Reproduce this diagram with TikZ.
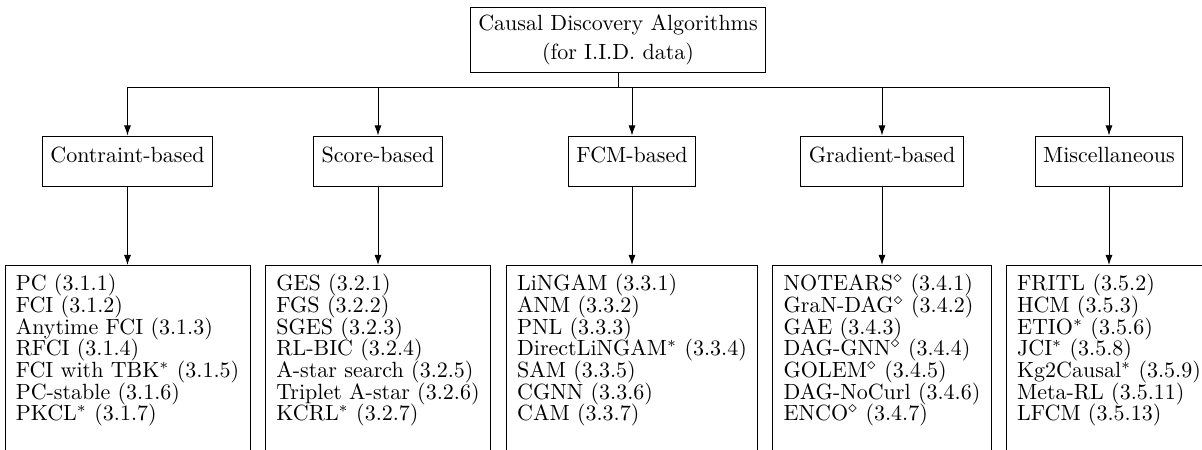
\documentclass[tikz,border=0pt]{standalone}
\usetikzlibrary{arrows.meta}
\begin{document}
\begin{tikzpicture}[x=0.4545pt,y=-0.4545pt,
  box/.style={draw, line width=0.4pt, inner xsep=3.6pt},
  root/.style={box, align=center, font=\fontsize{10}{13.5}\selectfont,
    minimum height=29.7pt},
  cat/.style={box, inner ysep=3.33pt, text height=8.8pt, text depth=7.3pt},
  list/.style={anchor=north, align=left, inner xsep=4.7pt, inner ysep=4pt,
    font={\fontsize{10}{9.85}\selectfont\lineskiplimit=-5pt}},
  listframe/.style={draw, line width=0.4pt},
  arr/.style={-{Latex[length=4.6pt,width=3.2pt]}, line width=0.4pt}]
\useasboundingbox (0,0) rectangle (1202,450);
\clip (0,0) rectangle (1202,450);
\coordinate (floor) at (0,480);

% root of the tree
\node[root] (root) at (618,40) {Causal Discovery Algorithms\\(for I.I.D. data)};

% families
\node[cat] (c1) at (127.5,161) {Contraint-based};
\node[cat] (c2) at (378,161) {Score-based};
\node[cat] (c3) at (632,161) {FCM-based};
\node[cat] (c4) at (882,161) {Gradient-based};
\node[cat] (c5) at (1109,161) {Miscellaneous};

% algorithm lists
\node[list] (l1) at (127.5,265) {PC (3.1.1)\\FCI (3.1.2)\\Anytime FCI (3.1.3)\\RFCI (3.1.4)\\FCI with TBK$^*$ (3.1.5)\\PC-stable (3.1.6)\\PKCL$^*$ (3.1.7)};
\node[list] (l2) at (378,265) {GES (3.2.1)\\FGS (3.2.2)\\SGES (3.2.3)\\RL-BIC (3.2.4)\\A-star search (3.2.5)\\Triplet A-star (3.2.6)\\KCRL$^*$ (3.2.7)};
\node[list] (l3) at (632,265) {LiNGAM (3.3.1)\\ANM (3.3.2)\\PNL (3.3.3)\\DirectLiNGAM$^*$ (3.3.4)\\SAM (3.3.5)\\CGNN (3.3.6)\\CAM (3.3.7)};
\node[list] (l4) at (882,265) {NOTEARS$^\diamond$ (3.4.1)\\GraN-DAG$^\diamond$ (3.4.2)\\GAE (3.4.3)\\DAG-GNN$^\diamond$ (3.4.4)\\GOLEM$^\diamond$ (3.4.5)\\DAG-NoCurl (3.4.6)\\ENCO$^\diamond$ (3.4.7)};
\node[list] (l5) at (1109,265) {FRITL (3.5.2)\\HCM (3.5.3)\\ETIO$^*$ (3.5.6)\\JCI$^*$ (3.5.8)\\Kg2Causal$^*$ (3.5.9)\\Meta-RL (3.5.11)\\LFCM (3.5.13)};

% list frames run on past the lower edge
\foreach \l in {l1,l2,l3,l4,l5}
  \draw[listframe] (\l.north west) rectangle (\l.east |- floor);

% forked edges from the root
\draw (root.south) -- ++(0,14) coordinate (fork);
\foreach \c in {c1,c2,c3,c4,c5}
  \draw[arr] (fork) -| (\c.north);

% family to list
\foreach \c/\l in {c1/l1,c2/l2,c3/l3,c4/l4,c5/l5}
  \draw[arr] (\c.south) -- (\c.south |- \l.north);
\end{tikzpicture}
\end{document}
